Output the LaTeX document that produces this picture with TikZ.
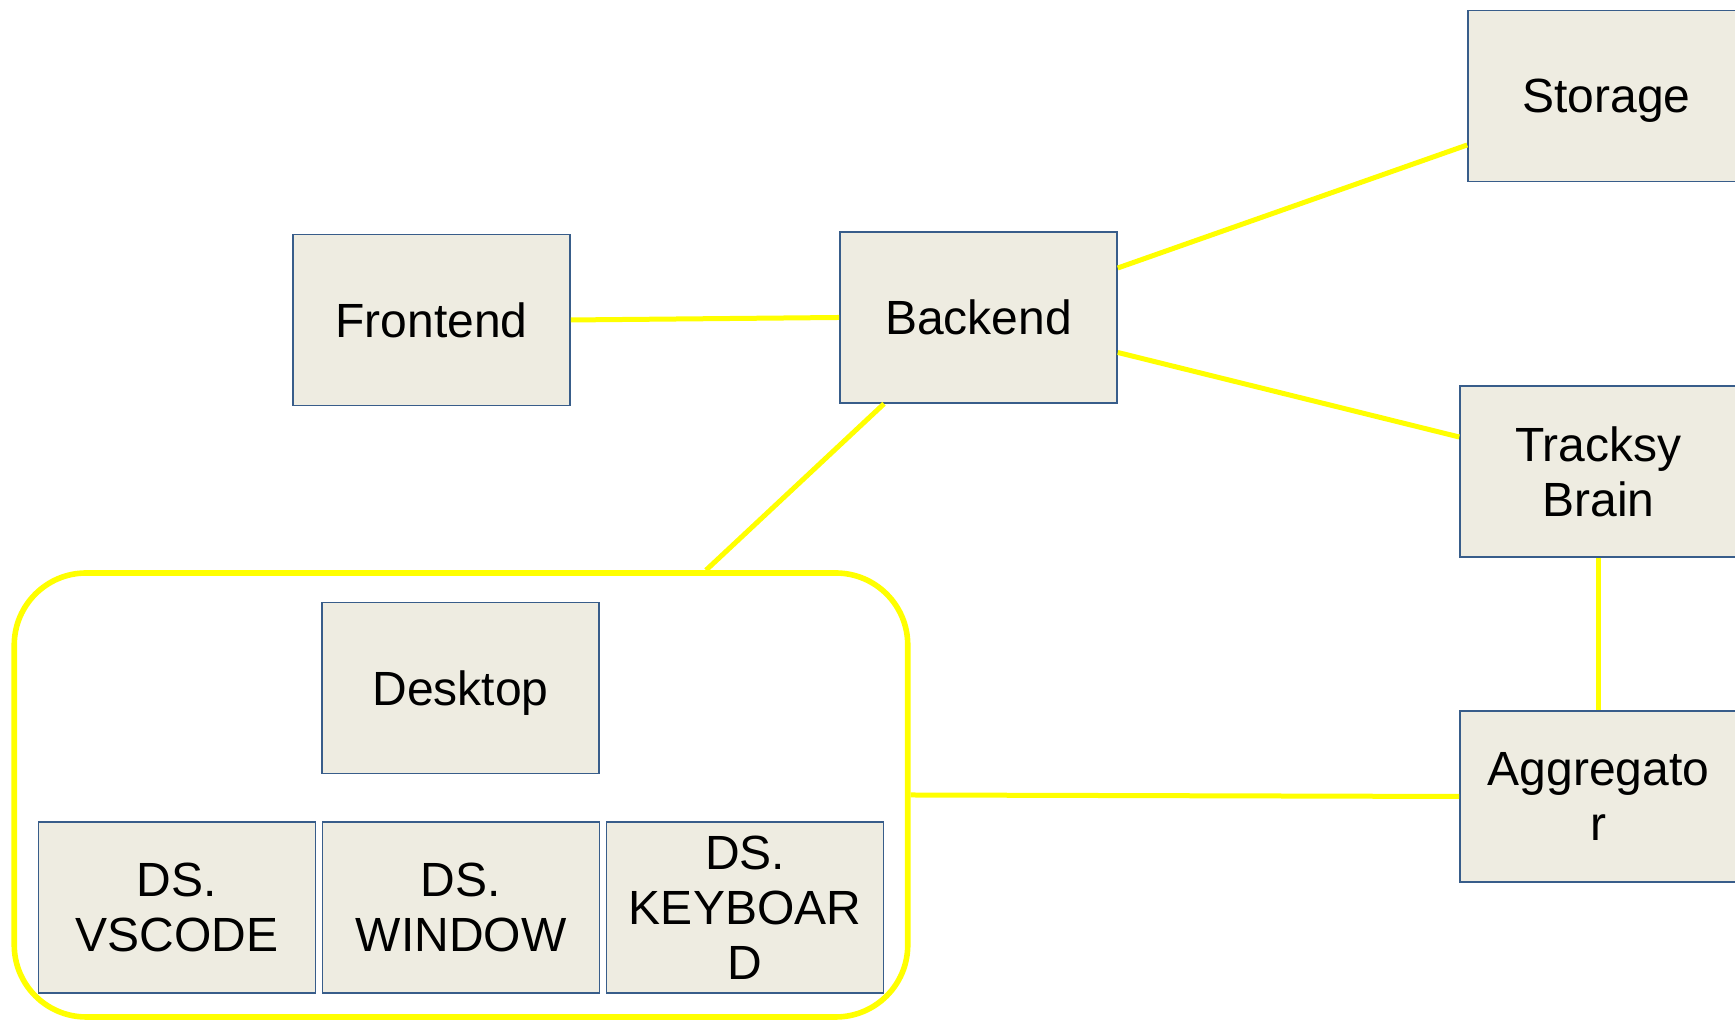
\documentclass[tikz,border=0pt]{standalone}
\usepackage{fontspec}
\setmainfont{Liberation Sans}
\usepackage{tikz}
\usepackage{xcolor}

\definecolor{boxfill}{HTML}{EEECE1}
\definecolor{boxline}{HTML}{385D8A}
\definecolor{linkyellow}{HTML}{FFFF00}

\begin{document}
\begin{tikzpicture}[x=0.5pt, y=0.5pt,
    comp/.style={draw=boxline, fill=boxfill, line width=0.8pt, inner sep=0pt,
      minimum width=138.5pt, minimum height=85.5pt, text depth=0pt,
      font=\fontsize{24}{27.5}\selectfont},
    stack/.style={comp, align=center},
    link/.style={draw=linkyellow, line width=2.5pt}]
    \fill[white] (0,0) rectangle (1735,1020);
    \useasboundingbox (0,0) rectangle (1735,1020);
    % desktop group
    \node[draw=linkyellow, line width=2.8pt, rounded corners=36pt,
          minimum width=446.75pt, minimum height=222pt] (desktopgroup) at (461,225) {};
    % web side
    \node[comp] (frontend) at (431.5,700) {Frontend};
    \node[comp] (backend) at (978.5,702.5) {Backend};
    \node[comp] (storage) at (1606.5,924) {Storage};
    \node[stack] (brain) at (1598.5,548.5) {Tracksy\\Brain};
    \node[stack] (aggregator) at (1598.5,223.5) {Aggregato\\r};
    % desktop and its sources
    \node[comp] (desktop) at (460.5,332) {Desktop};
    \node[stack] (dsvscode) at (177,112.5) {DS.\\VSCODE};
    \node[stack] (dswindow) at (461,112.5) {DS.\\WINDOW};
    \node[stack] (dskeyboard) at (745,112.5) {DS.\\KEYBOAR\\D};
    % links
    \draw[link] (frontend.east) -- (backend.west);
    \draw[link] ([yshift=24.75pt]backend.east) -- ([yshift=-24.5pt]storage.west);
    \draw[link] ([yshift=-17.5pt]backend.east) -- ([yshift=17.25pt]brain.west);
    \draw[link] ([xshift=-47.25pt]backend.south) -- ([xshift=122.5pt]desktopgroup.north);
    \draw[link] (brain.south) -- (aggregator.north);
    \draw[link] (desktopgroup.east) -- (aggregator.west);
  \end{tikzpicture}
\end{document}
